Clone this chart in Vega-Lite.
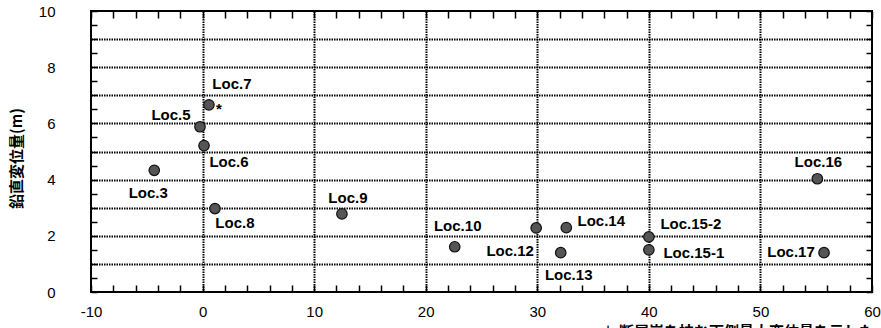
{
  "$schema": "https://vega.github.io/schema/vega-lite/v6.json",
  "width": 781,
  "height": 281,
  "autosize": {"type": "none"},
  "padding": {"left": 91, "top": 11, "right": 9, "bottom": 36},
  "background": "white",
  "config": {
    "view": {"stroke": "#000", "strokeWidth": 2},
    "font": "Liberation Sans"
  },
  "data": {
    "values": [
      {"loc": "Loc.3", "dist": -4.33, "disp": 4.33},
      {"loc": "Loc.5", "dist": -0.23, "disp": 5.88},
      {"loc": "Loc.6", "dist": 0.13, "disp": 5.21},
      {"loc": "Loc.7", "dist": 0.57, "disp": 6.66},
      {"loc": "Loc.8", "dist": 1.11, "disp": 2.97},
      {"loc": "Loc.9", "dist": 12.49, "disp": 2.78},
      {"loc": "Loc.10", "dist": 22.6, "disp": 1.61},
      {"loc": "Loc.12", "dist": 29.9, "disp": 2.28},
      {"loc": "Loc.13", "dist": 32.1, "disp": 1.4},
      {"loc": "Loc.14", "dist": 32.6, "disp": 2.29},
      {"loc": "Loc.15-2", "dist": 40.0, "disp": 1.96},
      {"loc": "Loc.15-1", "dist": 40.0, "disp": 1.5},
      {"loc": "Loc.16", "dist": 55.1, "disp": 4.03},
      {"loc": "Loc.17", "dist": 55.7, "disp": 1.4}
    ]
  },
  "layer": [
    {
      "encoding": {
        "x": {
          "field": "dist",
          "type": "quantitative",
          "scale": {"domain": [-10, 60], "nice": false, "zero": false},
          "axis": {
            "orient": "bottom",
            "offset": -7,
            "values": [-10, -8, -6, -4, -2, 0, 2, 4, 6, 8, 10, 12, 14, 16, 18, 20, 22, 24, 26, 28, 30, 32, 34, 36, 38, 40, 42, 44, 46, 48, 50, 52, 54, 56, 58, 60],
            "domain": false,
            "ticks": true,
            "tickSize": 7,
            "tickColor": "#000",
            "tickWidth": 1.5,
            "labelExpr": "datum.value % 10 === 0 ? '' + datum.value : ''",
            "labelFontSize": 15,
            "labelColor": "#000",
            "labelPadding": 12,
            "labelFlush": false,
            "labelOverlap": false,
            "grid": true,
            "gridColor": "#000",
            "gridDash": [1.5, 1],
            "gridWidth": 2,
            "gridOpacity": {"condition": {"test": "datum.value % 10 === 0 && datum.value > -10 && datum.value < 60", "value": 1}, "value": 0},
            "title": "＊ 断層崖を挟む両側最大変位量を示した",
            "titleFont": "Noto Sans CJK JP",
            "titleFontSize": 15,
            "titleFontWeight": "bold",
            "titleColor": "#000",
            "titleAnchor": "start",
            "titleAlign": "left",
            "titleBaseline": "top",
            "titleX": 509,
            "titleY": 39
          }
        },
        "y": {
          "field": "disp",
          "type": "quantitative",
          "scale": {"domain": [0, 10], "nice": false, "zero": false},
          "axis": {
            "orient": "left",
            "offset": -6,
            "values": [0, 0.5, 1, 1.5, 2, 2.5, 3, 3.5, 4, 4.5, 5, 5.5, 6, 6.5, 7, 7.5, 8, 8.5, 9, 9.5, 10],
            "domain": false,
            "ticks": true,
            "tickSize": 6,
            "tickColor": "#000",
            "tickWidth": 1.5,
            "labelExpr": "datum.value % 2 === 0 ? '' + datum.value : ''",
            "labelFontSize": 15,
            "labelColor": "#000",
            "labelPadding": 36,
            "labelFlush": false,
            "labelOverlap": false,
            "grid": true,
            "gridColor": "#000",
            "gridDash": [1.5, 1],
            "gridWidth": 2,
            "gridOpacity": {"condition": {"test": "datum.value % 1 === 0 && datum.value > 0 && datum.value < 10", "value": 1}, "value": 0},
            "title": "鉛直変位量(m)",
            "titleFont": "Noto Sans CJK JP",
            "titleFontSize": 15,
            "titleFontWeight": "bold",
            "titleColor": "#000",
            "titleAngle": -90,
            "titleAlign": "center",
            "titleBaseline": "middle",
            "titleX": -81,
            "titleY": 147
          }
        }
      },
      "layer": [
        {
          "mark": {"type": "point", "shape": "circle", "filled": true, "size": 110, "fill": "#555", "stroke": "#111", "strokeWidth": 1.2, "opacity": 1}
        },
        {
          "transform": [{"filter": "datum.loc === 'Loc.7'"}],
          "mark": {"type": "text", "text": "*", "fontSize": 15, "fontWeight": "bold", "dx": 10, "dy": 4, "color": "#000"}
        },
        {"transform": [{"filter": "datum.loc === 'Loc.3'"}], "mark": {"type": "text", "fontSize": 15, "fontWeight": "bold", "color": "#000", "baseline": "middle", "align": "center", "dx": -6, "dy": 23}, "encoding": {"text": {"field": "loc"}}},
        {"transform": [{"filter": "datum.loc === 'Loc.5'"}], "mark": {"type": "text", "fontSize": 15, "fontWeight": "bold", "color": "#000", "baseline": "middle", "align": "center", "dx": -29, "dy": -12}, "encoding": {"text": {"field": "loc"}}},
        {"transform": [{"filter": "datum.loc === 'Loc.6'"}], "mark": {"type": "text", "fontSize": 15, "fontWeight": "bold", "color": "#000", "baseline": "middle", "align": "center", "dx": 25, "dy": 16}, "encoding": {"text": {"field": "loc"}}},
        {"transform": [{"filter": "datum.loc === 'Loc.7'"}], "mark": {"type": "text", "fontSize": 15, "fontWeight": "bold", "color": "#000", "baseline": "middle", "align": "center", "dx": 23, "dy": -21}, "encoding": {"text": {"field": "loc"}}},
        {"transform": [{"filter": "datum.loc === 'Loc.8'"}], "mark": {"type": "text", "fontSize": 15, "fontWeight": "bold", "color": "#000", "baseline": "middle", "align": "center", "dx": 20, "dy": 14}, "encoding": {"text": {"field": "loc"}}},
        {"transform": [{"filter": "datum.loc === 'Loc.9'"}], "mark": {"type": "text", "fontSize": 15, "fontWeight": "bold", "color": "#000", "baseline": "middle", "align": "center", "dx": 6, "dy": -16}, "encoding": {"text": {"field": "loc"}}},
        {"transform": [{"filter": "datum.loc === 'Loc.10'"}], "mark": {"type": "text", "fontSize": 15, "fontWeight": "bold", "color": "#000", "baseline": "middle", "align": "center", "dx": 3, "dy": -21}, "encoding": {"text": {"field": "loc"}}},
        {"transform": [{"filter": "datum.loc === 'Loc.12'"}], "mark": {"type": "text", "fontSize": 15, "fontWeight": "bold", "color": "#000", "baseline": "middle", "align": "center", "dx": -26, "dy": 23}, "encoding": {"text": {"field": "loc"}}},
        {"transform": [{"filter": "datum.loc === 'Loc.13'"}], "mark": {"type": "text", "fontSize": 15, "fontWeight": "bold", "color": "#000", "baseline": "middle", "align": "center", "dx": 8, "dy": 22}, "encoding": {"text": {"field": "loc"}}},
        {"transform": [{"filter": "datum.loc === 'Loc.14'"}], "mark": {"type": "text", "fontSize": 15, "fontWeight": "bold", "color": "#000", "baseline": "middle", "align": "center", "dx": 35, "dy": -7}, "encoding": {"text": {"field": "loc"}}},
        {"transform": [{"filter": "datum.loc === 'Loc.15-2'"}], "mark": {"type": "text", "fontSize": 15, "fontWeight": "bold", "color": "#000", "baseline": "middle", "align": "center", "dx": 42, "dy": -13}, "encoding": {"text": {"field": "loc"}}},
        {"transform": [{"filter": "datum.loc === 'Loc.15-1'"}], "mark": {"type": "text", "fontSize": 15, "fontWeight": "bold", "color": "#000", "baseline": "middle", "align": "center", "dx": 45, "dy": 3}, "encoding": {"text": {"field": "loc"}}},
        {"transform": [{"filter": "datum.loc === 'Loc.16'"}], "mark": {"type": "text", "fontSize": 15, "fontWeight": "bold", "color": "#000", "baseline": "middle", "align": "center", "dx": 1, "dy": -17}, "encoding": {"text": {"field": "loc"}}},
        {"transform": [{"filter": "datum.loc === 'Loc.17'"}], "mark": {"type": "text", "fontSize": 15, "fontWeight": "bold", "color": "#000", "baseline": "middle", "align": "center", "dx": -33, "dy": -1}, "encoding": {"text": {"field": "loc"}}}
      ]
    },
    {
      "mark": {"type": "point", "opacity": 0},
      "encoding": {
        "x": {
          "field": "dist",
          "type": "quantitative",
          "scale": {"domain": [-10, 60], "nice": false, "zero": false},
          "axis": {
            "orient": "top",
            "offset": -7,
            "values": [-10, -8, -6, -4, -2, 0, 2, 4, 6, 8, 10, 12, 14, 16, 18, 20, 22, 24, 26, 28, 30, 32, 34, 36, 38, 40, 42, 44, 46, 48, 50, 52, 54, 56, 58, 60],
            "domain": false,
            "tickSize": 7,
            "tickColor": "#000",
            "tickWidth": 1.5,
            "labels": false,
            "grid": false,
            "title": null
          }
        },
        "y": {
          "field": "disp",
          "type": "quantitative",
          "scale": {"domain": [0, 10], "nice": false, "zero": false},
          "axis": {
            "orient": "right",
            "offset": -6,
            "values": [0, 0.5, 1, 1.5, 2, 2.5, 3, 3.5, 4, 4.5, 5, 5.5, 6, 6.5, 7, 7.5, 8, 8.5, 9, 9.5, 10],
            "domain": false,
            "tickSize": 6,
            "tickColor": "#000",
            "tickWidth": 1.5,
            "labels": false,
            "grid": false,
            "title": null
          }
        }
      }
    }
  ],
  "resolve": {"axis": {"x": "independent", "y": "independent"}}
}
